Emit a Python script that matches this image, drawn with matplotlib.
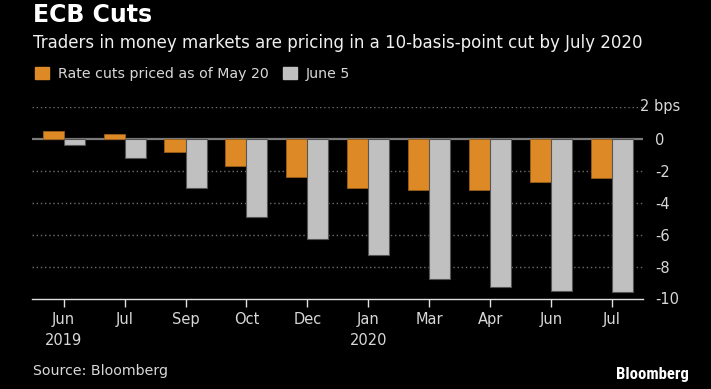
import numpy as np
import matplotlib.pyplot as plt
from matplotlib.patches import Patch

plt.rcParams['font.family'] = ['DejaVu Sans']

months = ['Jun\n2019', 'Jul', 'Sep', 'Oct', 'Dec', 'Jan\n2020', 'Mar', 'Apr', 'Jun', 'Jul']
may20 = [0.5, 0.3, -0.8, -1.7, -2.4, -3.1, -3.2, -3.2, -2.7, -2.45]
june5 = [-0.4, -1.2, -3.1, -4.9, -6.3, -7.25, -8.8, -9.3, -9.55, -9.6]
yticks = [2, 0, -2, -4, -6, -8, -10]

orange = '#DD8A26'
grey = '#C0C0C0'
txt = '#D8D8D8'

W, H = 711, 389
fig = plt.figure(figsize=(W / 100, H / 100), dpi=100, facecolor='black')
ax = fig.add_axes([32 / W, (H - 298.5) / H, (643 - 32) / W, (298.5 - 107) / H])
ax.set_facecolor('black')

x = np.arange(len(months))
w = 0.345
ax.bar(x - w / 2, may20, w, color=orange, edgecolor='#9a5e18', linewidth=0.6, zorder=3)
ax.bar(x + w / 2, june5, w, color=grey, edgecolor='#555555', linewidth=0.8, zorder=3)

ax.set_xlim(-0.52, len(months) - 1 + 0.51)
ax.set_ylim(-10, 2)

# grid
for v in yticks:
    if v == 0:
        ax.axhline(v, color='#7a7a7a', lw=1.6, zorder=2)
    elif v != -10:
        ax.axhline(v, color='#6e6e6e', lw=1.0, ls=(0, (1, 2)), zorder=1)

for s in ['top', 'left', 'right']:
    ax.spines[s].set_visible(False)
ax.spines['bottom'].set_color('#e0e0e0')
ax.spines['bottom'].set_linewidth(1.0)

ax.set_xticks(x)
ax.set_xticklabels(months, color=txt, fontsize=10.5, linespacing=1.5)
ax.tick_params(axis='x', colors='#e0e0e0', length=6, width=1, pad=4, labelcolor=txt)

ax.yaxis.tick_right()
ax.set_yticks(yticks)
ax.set_yticklabels(['' if v == 2 else str(v) for v in yticks], color=txt, fontsize=10.5)
ax.tick_params(axis='y', length=0, pad=9)
ax.text(640 / W, 1 - 106 / H, '2 bps', transform=fig.transFigure, color=txt,
        fontsize=10.5, ha='left', va='center')

fig.text(33 / W, 1 - 15 / H, 'ECB Cuts', color='white', fontsize=17, fontweight='bold',
         ha='left', va='center')
fig.text(33 / W, 1 - 43 / H,
         'Traders in money markets are pricing in a 10-basis-point cut by July 2020',
         color='#f0f0f0', fontsize=12, ha='left', va='center')

handles = [Patch(color=orange, label='Rate cuts priced as of May 20'),
           Patch(color=grey, label='June 5')]
fig.legend(handles=handles, loc='center left', bbox_to_anchor=(35 / W, 1 - 74 / H),
           ncol=2, frameon=False, handlelength=1.0, handleheight=0.92, handletextpad=0.63,
           columnspacing=1.0, borderpad=0, borderaxespad=0, fontsize=10.2, labelcolor=txt)

fig.text(33 / W, 1 - 371 / H, 'Source: Bloomberg', color=txt, fontsize=10.2,
         ha='left', va='center')
fig.text(689 / W, 1 - 375 / H, 'Bloomberg', color='white', fontsize=12,
         fontweight='bold', family=['Roboto Condensed', 'DejaVu Sans'],
         ha='right', va='center')

fig.savefig('out.png', dpi=100, facecolor='black')
